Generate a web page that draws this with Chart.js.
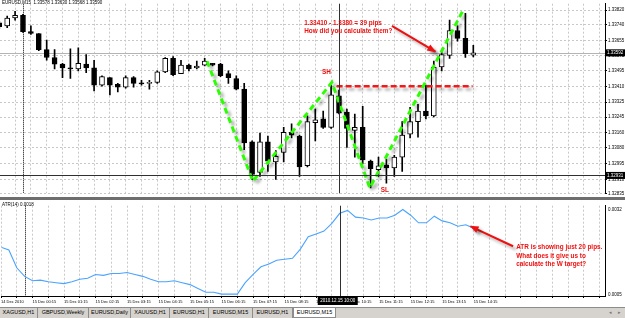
<!DOCTYPE html>
<html>
<head>
<meta charset="utf-8">
<script src="https://cdn.jsdelivr.net/npm/chart.js@4.4.1/dist/chart.umd.min.js"></script>
<style>
  body { margin: 0; background: #fff; }
  #wrap { position: relative; width: 625px; height: 318px; overflow: hidden; font-family: "Liberation Sans", Arial, sans-serif; }
  #price { position: absolute; left: 0; top: 0; }
  #split { position: absolute; left: 0; top: 197px; width: 625px; height: 3px; background: #6e6e6e; }
  #atr { position: absolute; left: 0; top: 200px; }
  #tabs { position: absolute; left: 0; top: 307px; width: 625px; height: 11px; background: #d6d3ce; border-top: 1px solid #8c8c8c; box-sizing: border-box; }
  .tab { position: absolute; top: 0; height: 10px; line-height: 9px; font-size: 5.5px; color: #000; text-align: center; border-right: 1px solid #8c8c8c; box-sizing: border-box; }
  .tab.on { background: #fff; border: 1px solid #8c8c8c; border-top: none; }
  .nav { position: absolute; top: 1px; font-size: 5px; color: #777; }
</style>
</head>
<body>
<div id="wrap">
  <canvas id="price" width="625" height="197"></canvas>
  <div id="split"></div>
  <canvas id="atr" width="625" height="107"></canvas>
  <div id="tabs"></div>
</div>
<script>
const FONT = '"Liberation Sans", Arial, sans-serif';

// 15 minute bars, slot 0 = 15 Dec 00:00, first bar is 14 Dec 23:15
const firstSlot = -3;
const opens = [
  1.33751, 1.33735, 1.33777, 1.33792, 1.33704, 1.33694, 1.33607, 1.33565, 1.33529, 1.33509,
  1.33503, 1.33529, 1.33509, 1.33416, 1.33457, 1.33421, 1.33405, 1.33457, 1.33429, 1.33426,
  1.33431, 1.33488, 1.33560, 1.33478, 1.33524, 1.33509, 1.33524, 1.33534, 1.33529, 1.33478,
  1.33452, 1.33395, 1.33112, 1.32947, 1.33112, 1.33003, 1.33055, 1.33163, 1.33142, 1.32983,
  1.33215, 1.33235, 1.33189, 1.33359, 1.33271, 1.33173, 1.33189, 1.33008, 1.32962, 1.32988,
  1.32972, 1.33029, 1.33153, 1.33220, 1.33277, 1.33251, 1.33514, 1.33576, 1.33710, 1.33668,
  1.33578,
];
const highs = [
  1.33761, 1.33787, 1.33813, 1.33797, 1.33735, 1.33694, 1.33658, 1.33607, 1.33534, 1.33612,
  1.33617, 1.33581, 1.33550, 1.33467, 1.33457, 1.33426, 1.33467, 1.33462, 1.33442, 1.33442,
  1.33493, 1.33565, 1.33570, 1.33550, 1.33529, 1.33545, 1.33560, 1.33534, 1.33534, 1.33493,
  1.33467, 1.33426, 1.33117, 1.33158, 1.33142, 1.33065, 1.33189, 1.33209, 1.33148, 1.33251,
  1.33287, 1.33277, 1.33416, 1.33390, 1.33287, 1.33261, 1.33302, 1.33014, 1.33029, 1.33019,
  1.33039, 1.33220, 1.33297, 1.33313, 1.33416, 1.33545, 1.33596, 1.33766, 1.33735, 1.33802,
  1.33630,
];
const lows = [
  1.33720, 1.33725, 1.33766, 1.33699, 1.33689, 1.33601, 1.33550, 1.33503, 1.33457, 1.33452,
  1.33493, 1.33483, 1.33385, 1.33411, 1.33364, 1.33380, 1.33400, 1.33405, 1.33416, 1.33395,
  1.33426, 1.33483, 1.33467, 1.33478, 1.33493, 1.33503, 1.33519, 1.33519, 1.33462, 1.33426,
  1.33390, 1.33070, 1.32910, 1.32926, 1.32952, 1.32910, 1.33003, 1.33132, 1.32926, 1.32977,
  1.33117, 1.33184, 1.33184, 1.33261, 1.33081, 1.33029, 1.32993, 1.32864, 1.32926, 1.32890,
  1.32926, 1.32952, 1.33132, 1.33137, 1.33235, 1.33246, 1.33493, 1.33560, 1.33653, 1.33565,
  1.33568,
];
const closes = [
  1.33730, 1.33777, 1.33792, 1.33704, 1.33694, 1.33607, 1.33565, 1.33529, 1.33509, 1.33503,
  1.33534, 1.33509, 1.33416, 1.33462, 1.33416, 1.33405, 1.33457, 1.33426, 1.33423, 1.33431,
  1.33488, 1.33560, 1.33472, 1.33524, 1.33503, 1.33519, 1.33545, 1.33524, 1.33467, 1.33457,
  1.33395, 1.33106, 1.32936, 1.33112, 1.33008, 1.33034, 1.33163, 1.33148, 1.32977, 1.33220,
  1.33230, 1.33189, 1.33364, 1.33266, 1.33184, 1.33189, 1.33014, 1.32967, 1.32983, 1.32972,
  1.33029, 1.33148, 1.33220, 1.33277, 1.33251, 1.33514, 1.33581, 1.33710, 1.33668, 1.33586,
  1.33590,
];
const atr = [
  0.00201, 0.00192, 0.00136, 0.00109, 0.00095, 0.00097, 0.00092, 0.00089, 0.00086, 0.00092,
  0.00100, 0.00103, 0.00115, 0.00112, 0.00118, 0.00118, 0.00121, 0.00115, 0.00109, 0.00100,
  0.00092, 0.00092, 0.00095, 0.00089, 0.00083, 0.00071, 0.00059, 0.00059, 0.00053, 0.00053,
  0.00053, 0.00089, 0.00115, 0.00139, 0.00148, 0.00160, 0.00163, 0.00166, 0.00195, 0.00234,
  0.00243, 0.00252, 0.00276, 0.00308, 0.00317, 0.00296, 0.00293, 0.00287, 0.00293, 0.00293,
  0.00302, 0.00320, 0.00302, 0.00278, 0.00278, 0.00299, 0.00284, 0.00278, 0.00267, 0.00272,
  0.00261,
];

const hourSlots = [-3, 1, 5, 9, 13, 17, 21, 25, 29, 33, 37, 41, 45, 49, 53, 57];
const hourLabels = [
  '14 Dec 2010', '15 Dec 00:15', '15 Dec 01:15', '15 Dec 02:15', '15 Dec 03:15', '15 Dec 04:15',
  '15 Dec 05:15', '15 Dec 06:15', '15 Dec 07:15', '15 Dec 08:15', '15 Dec 09:15', '15 Dec 10:15',
  '15 Dec 11:15', '15 Dec 12:15', '15 Dec 13:15', '15 Dec 14:15',
];
const priceTicks = [
  1.33820, 1.33740, 1.33655, 1.33575, 1.33495, 1.33410, 1.33325,
  1.33245, 1.33160, 1.33080, 1.32995, 1.32910, 1.32835,
];
const atrTicks = [0.0032, 0.0005];

// hand drawn W pattern, the target line and the two arrows
const wSlots = [23.3, 29.1, 39.1, 43.9, 55.7];
const wPrices = [1.33545, 1.32900, 1.33431, 1.32864, 1.33818];
const targetSlots = [39.7, 56.9];
const targetPrices = [1.33410, 1.33410];
const arrowSlots = [46.7, 52.2];
const arrowPrices = [1.33735, 1.33596];
const atrArrowSlots = [62.0, 56.6];
const atrArrowValues = [0.00204, 0.00267];

const priceNotes = [
  { slot: 35.6, value: 1.33751, align: 'left', lines: ['1.33410 - 1.3380 = 39 pips', 'How did you calculate them?'] },
  { slot: 38.4, value: 1.33483, align: 'center', lines: ['SH'] },
  { slot: 45.8, value: 1.32849, align: 'center', lines: ['SL'] },
];
const atrNotes = [
  { slot: 62.4, value: 0.00200, align: 'left', lines: ['ATR is showing just 20 pips.', 'What does it give us to', 'calculate the W target?'] },
];

const title = 'EURUSD,M15  1.33578 1.33630 1.33568 1.33590';
const atrTitle = 'ATR(14) 0.0018';
const bidPrice = 1.33590;
const bidLabel = '1.33592';
const crossPrice = 1.32931;
const crossSlot = 40;
const crossTime = '2010.12.15 10:00';
const dayBreakSlot = 0;

const tabNames = ['XAGUSD,H1', 'GBPUSD,Weekly', 'EURUSD,Daily', 'XAUUSD,H1', 'EURUSD,H1', 'EURUSD,M15', 'EURUSD,H1', 'EURUSD,M15'];
const tabEdges = [0, 38, 89, 131, 170, 209, 253, 293, 336];

const X_MIN = -2.91;
const X_MAX = 73.67;
const gridSlots = [];
for (let s = -3; s <= 73; s += 2) gridSlots.push(s);

const slots = opens.map((_, i) => firstSlot + i);
const pts = (xs, ys) => xs.map((x, i) => ({ x, y: ys[i] }));

// tabs
const tabs = document.getElementById('tabs');
tabNames.forEach((name, i) => {
  const el = document.createElement('div');
  el.className = i === tabNames.length - 1 ? 'tab on' : 'tab';
  el.style.left = `${tabEdges[i]}px`;
  el.style.width = `${tabEdges[i + 1] - tabEdges[i]}px`;
  el.textContent = name;
  tabs.appendChild(el);
});
['\u25C2', '\u25B8'].forEach((g, i) => {
  const el = document.createElement('div');
  el.className = 'nav';
  el.style.left = `${609 + i * 9}px`;
  el.textContent = g;
  tabs.appendChild(el);
});

const dropShadow = {
  id: 'dropShadow',
  beforeDatasetDraw(chart, args) {
    const ds = chart.data.datasets[args.index];
    if (!ds.shadow) return;
    const { ctx } = chart;
    ctx.save();
    ctx.shadowColor = 'rgba(0,0,0,0.32)';
    ctx.shadowBlur = 3;
    ctx.shadowOffsetX = 3;
    ctx.shadowOffsetY = 3;
  },
  afterDatasetDraw(chart, args) {
    if (chart.data.datasets[args.index].shadow) chart.ctx.restore();
  },
};

function vLine(chart, slot, color, dash) {
  const { ctx, chartArea } = chart;
  const x = Math.round(chart.scales.x.getPixelForValue(slot)) + 0.5;
  ctx.save();
  ctx.strokeStyle = color;
  ctx.lineWidth = 1;
  ctx.setLineDash(dash);
  ctx.beginPath();
  ctx.moveTo(x, chartArea.top);
  ctx.lineTo(x, chartArea.bottom);
  ctx.stroke();
  ctx.restore();
}

function hLine(chart, value, color) {
  const { ctx, chartArea } = chart;
  const y = Math.round(chart.scales.y.getPixelForValue(value)) + 0.5;
  ctx.save();
  ctx.strokeStyle = color;
  ctx.lineWidth = 1;
  ctx.beginPath();
  ctx.moveTo(chartArea.left, y);
  ctx.lineTo(chartArea.right, y);
  ctx.stroke();
  ctx.restore();
}

function axisBox(chart, value, text) {
  const { ctx, chartArea } = chart;
  const y = chart.scales.y.getPixelForValue(value);
  ctx.save();
  ctx.fillStyle = '#000';
  ctx.fillRect(chartArea.right + 1, y - 3.5, 20, 7);
  ctx.fillStyle = '#fff';
  ctx.font = `4.5px ${FONT}`;
  ctx.textBaseline = 'middle';
  ctx.fillText(text, chartArea.right + 2, y);
  ctx.restore();
}

function drawNotes(chart, notes) {
  const { ctx } = chart;
  ctx.save();
  ctx.fillStyle = '#f01010';
  ctx.font = `bold 6.4px ${FONT}`;
  ctx.textBaseline = 'middle';
  notes.forEach((n) => {
    const x = chart.scales.x.getPixelForValue(n.slot);
    const y = chart.scales.y.getPixelForValue(n.value);
    ctx.textAlign = n.align;
    n.lines.forEach((line, i) => ctx.fillText(line, x, y + i * 8.5));
  });
  ctx.restore();
}

function arrowHeads(chart) {
  const { ctx } = chart;
  chart.data.datasets.forEach((ds, i) => {
    if (!ds.arrow) return;
    const pts2 = chart.getDatasetMeta(i).data;
    const a = pts2[pts2.length - 2];
    const b = pts2[pts2.length - 1];
    const ang = Math.atan2(b.y - a.y, b.x - a.x);
    ctx.save();
    ctx.shadowColor = 'rgba(0,0,0,0.32)';
    ctx.shadowBlur = 3;
    ctx.shadowOffsetX = 3;
    ctx.shadowOffsetY = 3;
    ctx.translate(b.x, b.y);
    ctx.rotate(ang);
    ctx.fillStyle = ds.borderColor;
    ctx.beginPath();
    ctx.moveTo(1, 0);
    ctx.lineTo(-8, -3.5);
    ctx.lineTo(-8, 3.5);
    ctx.closePath();
    ctx.fill();
    ctx.restore();
  });
}

const priceOverlay = {
  id: 'priceOverlay',
  beforeDatasetsDraw(chart) {
    vLine(chart, dayBreakSlot, '#000', [1, 1]);
    hLine(chart, bidPrice, '#b4b4b4');
  },
  afterDatasetsDraw(chart) {
    vLine(chart, crossSlot, '#303030', []);
    hLine(chart, crossPrice, '#303030');
    arrowHeads(chart);
    drawNotes(chart, priceNotes);
    const { ctx } = chart;
    ctx.save();
    ctx.fillStyle = '#000';
    ctx.font = `4.5px ${FONT}`;
    ctx.textBaseline = 'top';
    ctx.fillText(title, 2, 1);
    ctx.restore();
  },
  afterDraw(chart) {
    axisBox(chart, bidPrice, bidLabel);
    axisBox(chart, crossPrice, crossPrice.toFixed(5));
  },
};

const atrOverlay = {
  id: 'atrOverlay',
  beforeDatasetsDraw(chart) {
    vLine(chart, dayBreakSlot, '#000', [1, 1]);
  },
  afterDatasetsDraw(chart) {
    vLine(chart, crossSlot, '#303030', []);
    arrowHeads(chart);
    drawNotes(chart, atrNotes);
    const { ctx } = chart;
    ctx.save();
    ctx.fillStyle = '#000';
    ctx.font = `4.5px ${FONT}`;
    ctx.textBaseline = 'top';
    ctx.fillText(atrTitle, 2, 3);
    ctx.restore();
  },
  afterDraw(chart) {
    const { ctx, chartArea } = chart;
    const x = chart.scales.x.getPixelForValue(crossSlot);
    ctx.save();
    ctx.fillStyle = '#000';
    ctx.fillRect(x - 22, chartArea.bottom + 1, 40, 8);
    ctx.fillStyle = '#fff';
    ctx.font = `4.5px ${FONT}`;
    ctx.textAlign = 'center';
    ctx.textBaseline = 'middle';
    ctx.fillText(crossTime, x - 2, chartArea.bottom + 5);
    ctx.restore();
  },
};

const gridX = {
  type: 'linear',
  min: X_MIN,
  max: X_MAX,
  offset: false,
  afterBuildTicks: (s) => { s.ticks = gridSlots.map((v) => ({ value: v })); },
  grid: { color: '#c8c8c8', offset: false, drawTicks: false },
  border: { display: false, dash: [2, 2] },
};

Chart.defaults.font.family = FONT;

// price pane
// eslint-disable-next-line no-new
new Chart(document.getElementById('price'), {
  type: 'bar',
  data: {
    datasets: [
      {
        type: 'line',
        label: 'W',
        data: pts(wSlots, wPrices),
        borderColor: '#2cff00',
        borderWidth: 3,
        borderDash: [6, 4],
        pointRadius: 0,
        tension: 0,
        shadow: true,
        order: 0,
      },
      {
        type: 'line',
        label: 'target',
        data: pts(targetSlots, targetPrices),
        borderColor: '#f41818',
        borderWidth: 2.5,
        borderDash: [6, 3],
        pointRadius: 0,
        shadow: true,
        order: 1,
      },
      {
        type: 'line',
        label: 'arrow',
        data: pts(arrowSlots, arrowPrices),
        borderColor: '#ee1111',
        borderWidth: 2,
        pointRadius: 0,
        shadow: true,
        arrow: true,
        order: 0,
      },
      {
        label: 'body',
        data: slots.map((s, i) => ({ x: s, y: [opens[i], closes[i]] })),
        backgroundColor: opens.map((o, i) => (closes[i] > o ? '#fff' : '#000')),
        borderColor: '#000',
        borderWidth: 1,
        borderSkipped: false,
        barThickness: 5,
        minBarLength: 1,
        grouped: false,
        order: 2,
      },
      {
        label: 'wick',
        data: slots.map((s, i) => ({ x: s, y: [lows[i], highs[i]] })),
        backgroundColor: '#000',
        barThickness: 1,
        grouped: false,
        order: 3,
      },
    ],
  },
  options: {
    responsive: false,
    animation: false,
    layout: { padding: 0 },
    plugins: { legend: { display: false }, tooltip: { enabled: false } },
    scales: {
      x: {
        ...gridX,
        ticks: { display: false },
        afterFit: (s) => { s.height = 0; },
      },
      y: {
        position: 'right',
        min: 1.32835,
        max: 1.33854,
        afterFit: (s) => { s.width = 20; },
        afterBuildTicks: (s) => { s.ticks = priceTicks.map((v) => ({ value: v })); },
        ticks: {
          font: { size: 4.5 }, color: '#000', padding: 1, callback: (v) => v.toFixed(5),
        },
        grid: {
          color: '#c8c8c8', tickColor: '#000', tickLength: 2, tickBorderDash: [],
        },
        border: { display: true, color: '#000', dash: [2, 2] },
      },
    },
  },
  plugins: [dropShadow, priceOverlay],
});

// ATR pane
// eslint-disable-next-line no-new
new Chart(document.getElementById('atr'), {
  type: 'line',
  data: {
    datasets: [
      {
        label: 'ATR(14)',
        data: pts(slots, atr),
        borderColor: '#4aa3ff',
        borderWidth: 1.1,
        pointRadius: 0,
        tension: 0,
      },
      {
        label: 'arrow',
        data: pts(atrArrowSlots, atrArrowValues),
        borderColor: '#ee1111',
        borderWidth: 2,
        pointRadius: 0,
        shadow: true,
        arrow: true,
      },
    ],
  },
  options: {
    responsive: false,
    animation: false,
    layout: { padding: 0 },
    plugins: { legend: { display: false }, tooltip: { enabled: false } },
    scales: {
      x: {
        ...gridX,
        afterFit: (s) => { s.height = 11; },
        ticks: {
          font: { size: 4 },
          color: '#000',
          align: 'start',
          padding: 1,
          autoSkip: false,
          maxRotation: 0,
          minRotation: 0,
          callback: (v) => {
            const i = hourSlots.indexOf(v);
            return i < 0 ? '' : hourLabels[i];
          },
        },
        grid: {
          color: '#c8c8c8', offset: false, drawTicks: true, tickLength: 2, tickColor: '#000', tickBorderDash: [],
        },
        border: { display: true, color: '#000', dash: [2, 2] },
      },
      y: {
        position: 'right',
        min: 0.00047,
        max: 0.00332,
        afterFit: (s) => { s.width = 20; },
        afterBuildTicks: (s) => { s.ticks = atrTicks.map((v) => ({ value: v })); },
        ticks: {
          font: { size: 4.5 }, color: '#000', padding: 3, callback: (v) => v.toFixed(4),
        },
        grid: { display: false, drawTicks: false },
        border: { display: true, color: '#000' },
      },
    },
  },
  plugins: [dropShadow, atrOverlay],
});
</script>
</body>
</html>
